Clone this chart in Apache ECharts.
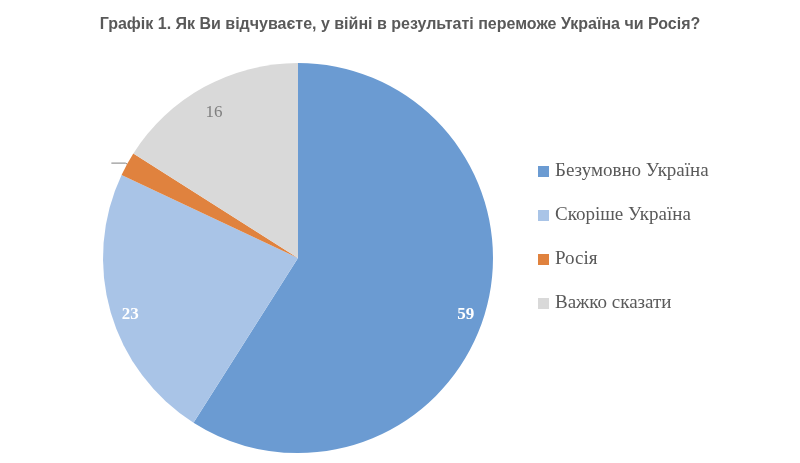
<!DOCTYPE html>
<html><head><meta charset="utf-8">
<script src="https://cdn.jsdelivr.net/npm/echarts@6/dist/echarts.min.js"></script>
<style>html,body{margin:0;padding:0;background:#fff}#c{width:800px;height:463px}</style>
</head><body><div id="c"></div>
<script>
const titleText = 'Графік 1. Як Ви відчуваєте, у війні в результаті переможе Україна чи Росія?';
const categories = ['Безумовно Україна', 'Скоріше Україна', 'Росія', 'Важко сказати'];
const values = [59, 23, 2, 16];
const colors = ['#6b9bd2', '#a9c4e7', '#e0823e', '#d9d9d9'];
const labelColors = ['#ffffff', '#ffffff', '#595959', '#7f7f7f'];
const labelWeights = ['bold', 'bold', 'normal', 'normal'];

const chart = echarts.init(document.getElementById('c'));
const center = [298, 258];
const R = 195;
chart.setOption({
  animation: false,
  title: {
    text: titleText, left: 'center', top: 12,
    textStyle: { fontFamily: 'Liberation Sans', fontSize: 16, fontWeight: 'bold', color: '#595959' }
  },
  legend: {
    orient: 'vertical', left: 533, top: 157, itemWidth: 11, itemHeight: 11, itemGap: 25,
    icon: 'rect',
    textStyle: { fontFamily: 'Liberation Serif', fontSize: 19, color: '#595959', padding: [0,0,0,1] },
    data: categories
  },
  series: [
    {
      type: 'pie', center: center, radius: R, startAngle: 90, clockwise: true,
      data: categories.map((n, i) => ({
        name: n, value: values[i], itemStyle: { color: colors[i] },
        label: { show: i === 2, formatter: ' ' },
        labelLine: { show: i === 2, length: 2, length2: 14, lineStyle: { color: '#7f7f7f', width: 1 } }
      })),
      label: { position: 'outside' },
      emphasis: { disabled: true }
    },
    {
      type: 'pie', center: center, radius: [R * 0.76, R], startAngle: 90, clockwise: true,
      silent: true, legendHoverLink: false,
      data: categories.map((n, i) => ({
        name: n, value: values[i], itemStyle: { color: 'transparent' },
        label: { show: i !== 2, color: labelColors[i], fontWeight: labelWeights[i] }
      })),
      label: { position: 'inside', fontFamily: 'Liberation Serif', fontSize: 17, formatter: '{c}', offset: [0, 8] },
      labelLine: { show: false }
    }
  ]
});
</script></body></html>
